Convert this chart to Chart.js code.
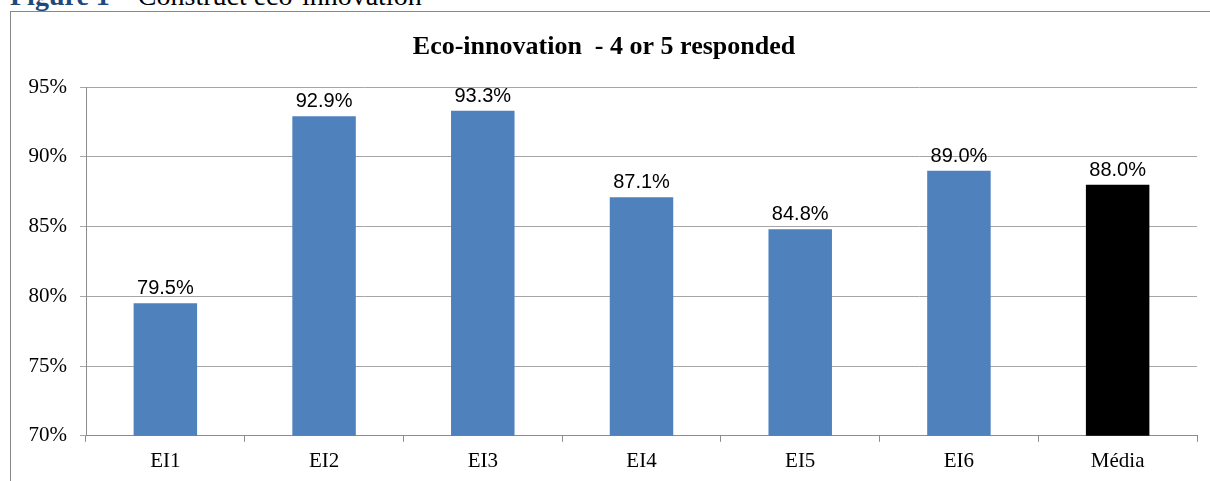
<!DOCTYPE html>
<html>
<head>
<meta charset="utf-8">
<script src="https://cdn.jsdelivr.net/npm/chart.js@4.4.1/dist/chart.umd.min.js"></script>
<style>
  html, body { margin: 0; padding: 0; background: #fff; }
  body { width: 1210px; height: 481px; overflow: hidden; position: relative; }
  #header { position: absolute; left: 10px; top: -20px; font-family: "Liberation Serif", serif; font-size: 28px; white-space: nowrap; color: #000; }
  #header b { color: #1f497d; }
  #frame { position: absolute; left: 10px; top: 11px; width: 1220px; height: 500px; border: 1px solid #888; box-sizing: border-box; }
  #wrap { position: absolute; left: 11px; top: 12px; width: 1212px; height: 469px; }
</style>
</head>
<body>
<div id="header"><b>Figure 1</b> – Construct eco-innovation</div>
<div id="frame"></div>
<div id="wrap"><canvas id="c" width="1212" height="469"></canvas></div>
<script>
const chartTitle = "Eco-innovation  - 4 or 5 responded";
const categories = ["EI1", "EI2", "EI3", "EI4", "EI5", "EI6", "Média"];
const values = [79.5, 92.9, 93.3, 87.1, 84.8, 89.0, 88.0];
const barColors = ["#4f81bd", "#4f81bd", "#4f81bd", "#4f81bd", "#4f81bd", "#4f81bd", "#000000"];
const yMin = 70, yMax = 95, yStep = 5;

const valueLabels = {
  id: "valueLabels",
  afterDatasetsDraw(chart) {
    const ctx = chart.ctx;
    const meta = chart.getDatasetMeta(0);
    ctx.save();
    ctx.font = "20px 'Liberation Sans', sans-serif";
    ctx.fillStyle = "#000";
    ctx.textAlign = "center";
    ctx.textBaseline = "alphabetic";
    meta.data.forEach((el, i) => {
      ctx.fillText(values[i].toFixed(1) + "%", el.x, el.y - 9);
    });
    ctx.restore();
  }
};

new Chart(document.getElementById("c"), {
  type: "bar",
  data: {
    labels: categories,
    datasets: [{
      data: values,
      backgroundColor: barColors,
      borderWidth: 0,
      barPercentage: 0.4,
      categoryPercentage: 1.0
    }]
  },
  options: {
    responsive: false,
    animation: false,
    devicePixelRatio: 1,
    layout: { padding: { left: 0, right: 26, top: 0, bottom: 0 } },
    plugins: {
      legend: { display: false },
      tooltip: { enabled: false },
      title: {
        display: true,
        text: chartTitle,
        color: "#000",
        font: { family: "'Liberation Serif', serif", size: 26, weight: "bold" },
        padding: { top: 19.4, bottom: 24.4 }
      }
    },
    scales: {
      x: {
        grid: { drawOnChartArea: false, drawTicks: true, tickLength: 6, color: "#8c8c8c", offset: true },
        border: { color: "#8c8c8c" },
        ticks: { color: "#000", padding: 7, font: { family: "'Liberation Serif', serif", size: 21 } }
      },
      y: {
        min: yMin, max: yMax,
        afterFit(scale) { scale.width = 75; },
        grid: { color: "#a6a6a6", tickLength: 6 },
        border: { color: "#8c8c8c" },
        ticks: {
          stepSize: yStep, padding: 13, color: "#000",
          font: { family: "'Liberation Serif', serif", size: 21 },
          callback: v => v + "%"
        }
      }
    }
  },
  plugins: [valueLabels]
});
</script>
</body>
</html>
